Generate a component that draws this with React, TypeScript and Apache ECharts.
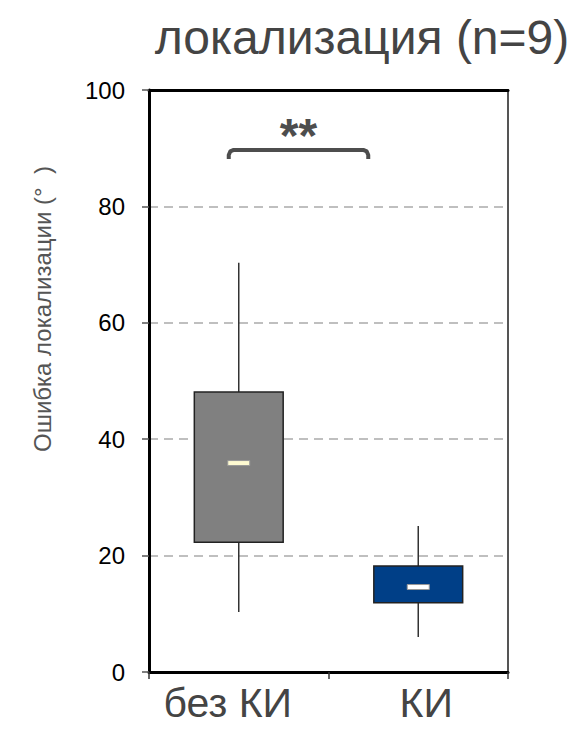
import React, { useEffect, useRef } from "react";
import * as echarts from "echarts";

const categories = ["без КИ", "КИ"];
// [min, Q1, median, Q3, max]
const boxValues = [
  [10.3, 22.3, 35.9, 48.1, 70.3],
  [6.0, 11.9, 14.6, 18.2, 25.1],
];
const yTicks = { min: 0, max: 100, interval: 20 };
const titleText = "локализация (n=9)";
const yAxisTitle = "Ошибка локализации (°  )";
const significance = "**";
const bracketValue = 89.7;

const boxColors = ["#808080", "#003f87"];
const medianColors = ["#fffbd2", "#ffffff"];
const labelPaddings = [
  [0, 22, 0, 0],
  [0, 0, 0, 16],
];

export default function App() {
  const ref = useRef<HTMLDivElement>(null);
  useEffect(() => {
    if (!ref.current) return;
    const chart = echarts.init(ref.current, null, { renderer: "svg" });
    const font = "Arial, 'Liberation Sans', sans-serif";
    chart.setOption({
      animation: false,
      title: {
        text: titleText,
        left: 357,
        top: 8,
        textAlign: "center",
        textStyle: { fontSize: 48, fontWeight: "normal", color: "#444", fontFamily: font },
      },
      grid: {
        left: 149,
        top: 90,
        width: 359,
        height: 582,
        show: true,
        borderColor: "#555",
        borderWidth: 2,
        backgroundColor: "transparent",
      },
      xAxis: [
        {
          type: "category",
          data: categories.map((c, i) => ({
            value: c,
            textStyle: { padding: labelPaddings[i] },
          })),
          axisLine: { show: true, lineStyle: { color: "#000", width: 3 } },
          axisTick: { show: true, length: 7, lineStyle: { color: "#333", width: 1.5 } },
          axisLabel: { fontSize: 41, color: "#444", fontFamily: font, margin: 10 },
        },
        {
          type: "category",
          data: categories,
          position: "top",
          axisLine: { show: true, lineStyle: { color: "#000", width: 3 } },
          axisTick: { show: false },
          axisLabel: { show: false },
        },
      ],
      yAxis: {
        type: "value",
        min: yTicks.min,
        max: yTicks.max,
        interval: yTicks.interval,
        axisLine: { show: true, lineStyle: { color: "#000", width: 3 } },
        axisTick: { show: true, length: 7, lineStyle: { color: "#555", width: 1.5 } },
        axisLabel: { fontSize: 24, color: "#000", fontFamily: font, margin: 24 },
        splitLine: {
          show: true,
          lineStyle: { color: "#aaa", width: 1.5, type: [9, 6] },
        },
      },
      series: [
        {
          type: "custom",
          data: boxValues.map((v, i) => [i, ...v]),
          encode: { x: 0, y: [1, 2, 3, 4, 5] },
          renderItem: (params: any, api: any) => {
            const idx = api.value(0);
            const pMin = api.coord([idx, api.value(1)]);
            const pQ1 = api.coord([idx, api.value(2)]);
            const pMed = api.coord([idx, api.value(3)]);
            const pQ3 = api.coord([idx, api.value(4)]);
            const pMax = api.coord([idx, api.value(5)]);
            const bw = api.size([1, 0])[0] * 0.495;
            const cx = pMed[0];
            return {
              type: "group",
              children: [
                {
                  type: "line",
                  shape: { x1: cx, y1: pMin[1], x2: cx, y2: pMax[1] },
                  style: { stroke: "#333", lineWidth: 1.5 },
                },
                {
                  type: "rect",
                  shape: { x: cx - bw / 2, y: pQ3[1], width: bw, height: pQ1[1] - pQ3[1] },
                  style: { fill: boxColors[idx], stroke: "#222", lineWidth: 1.5 },
                },
                {
                  type: "rect",
                  shape: { x: cx - 11, y: pMed[1] - 2.5, width: 22, height: 5 },
                  style: { fill: medianColors[idx], stroke: "#999", lineWidth: 1 },
                },
              ],
            };
          },
          z: 5,
        },
      ],
    });
    const c0 = chart.convertToPixel({ xAxisIndex: 0, yAxisIndex: 0 }, [0, bracketValue]);
    const c1 = chart.convertToPixel({ xAxisIndex: 0, yAxisIndex: 0 }, [1, bracketValue]);
    const xl = c0[0] - 10;
    const xr = c1[0] - 50;
    const y = c0[1];
    chart.setOption({
      graphic: [
        {
          type: "polyline",
          shape: {
            points: [
              [xl, y + 9],
              [xl, y + 5],
              [xl + 1.5, y + 1.5],
              [xl + 5, y],
              [xr - 5, y],
              [xr - 1.5, y + 1.5],
              [xr, y + 5],
              [xr, y + 9],
            ],
          },
          style: { stroke: "#4d4d4d", lineWidth: 4, fill: null, lineJoin: "round" },
        },
        {
          type: "text",
          x: (xl + xr) / 2,
          y: y - 14,
          style: {
            text: significance,
            fontSize: 48,
            fontWeight: "bold",
            fontFamily: font,
            fill: "#4d4d4d",
            align: "center",
            verticalAlign: "middle",
          },
        },
        {
          type: "text",
          x: 42,
          y: 309,
          rotation: Math.PI / 2,
          style: {
            text: yAxisTitle,
            fontSize: 24,
            fontFamily: font,
            fill: "#555",
            align: "center",
            verticalAlign: "middle",
          },
        },
      ],
    });
    return () => chart.dispose();
  }, []);
  return (
    <div
      ref={ref}
      style={{ position: "absolute", left: 0, top: 0, width: 579, height: 729 }}
    />
  );
}
